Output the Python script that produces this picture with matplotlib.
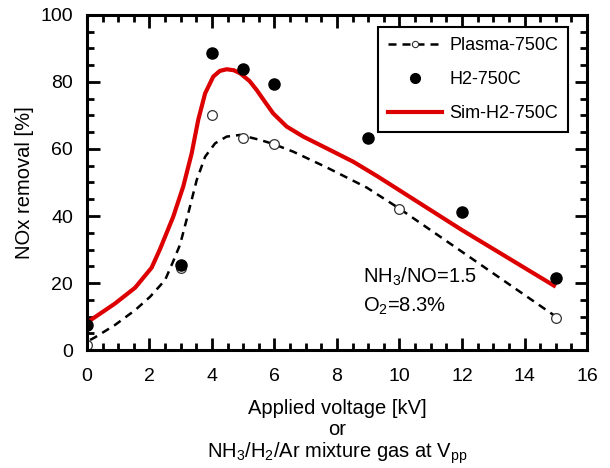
import numpy as np
import matplotlib.pyplot as plt
from matplotlib.lines import Line2D
from matplotlib.ticker import MultipleLocator

plt.rcParams['font.family'] = ['Liberation Sans', 'DejaVu Sans']
plt.rcParams['mathtext.fontset'] = 'custom'
plt.rcParams['mathtext.rm'] = 'Liberation Sans'
plt.rcParams['mathtext.it'] = 'Liberation Sans'

# measured points
plasma_x = [0, 3, 4, 5, 6, 10, 15]
plasma_y = [1.5, 24.4, 70.0, 63.4, 61.5, 42.1, 9.5]
h2_x = [0, 3, 4, 5, 6, 9, 12, 15]
h2_y = [7.5, 25.4, 88.6, 84.0, 79.3, 63.2, 41.1, 21.6]

# dashed curve (plasma)
dash_x = [0.1, 0.26, 0.9, 1.54, 2.02, 2.5, 2.76, 2.98, 3.24, 3.51, 3.78, 4.10, 4.47,
          4.9, 5.54, 5.96, 6.6, 7.67, 8.95, 10.0, 15.0]
dash_y = [3.0, 3.8, 7.5, 11.9, 15.9, 20.9, 26.5, 31.5, 40.8, 50.7, 57.7, 61.7, 63.7,
          64.2, 62.7, 61.5, 59.2, 54.5, 48.5, 42.2, 10.0]

# red curve (simulation)
sim_x = [0, 0.9, 1.54, 2.07, 2.34, 2.76, 3.08, 3.35, 3.56, 3.78, 4.04, 4.25, 4.47, 4.7,
         4.9, 5.2, 5.43, 5.7, 5.96, 6.39, 6.92, 7.67, 8.52, 9.32, 12.0, 15.0]
sim_y = [8.2, 13.9, 18.6, 24.6, 30.2, 39.8, 48.8, 58.7, 68.7, 76.6, 81.6, 83.3, 83.8, 83.5,
         82.6, 80.3, 77.6, 74.0, 70.6, 66.7, 63.7, 60.2, 56.2, 51.7, 35.8, 18.9]

fig = plt.figure(figsize=(6.1, 4.68), dpi=100)
ax = fig.add_axes([0.1426, 0.2521, 0.8197, 0.7159])

ax.plot(dash_x, dash_y, color='black', lw=1.8, dashes=(3.2, 2.4))
ax.plot(sim_x, sim_y, color='#dd0000', lw=3.0, solid_capstyle='butt', solid_joinstyle='round')
ax.plot(plasma_x, plasma_y, 'o', ms=7, mfc='white', mec='#333333', mew=0.9, ls='none')
ax.plot(h2_x, h2_y, 'o', ms=8, mfc='black', mec='black', ls='none')

ax.set_xlim(0, 16)
ax.set_ylim(0, 100)
ax.xaxis.set_major_locator(MultipleLocator(2))
ax.xaxis.set_minor_locator(MultipleLocator(0.5))
ax.yaxis.set_major_locator(MultipleLocator(20))
ax.yaxis.set_minor_locator(MultipleLocator(5))
ax.tick_params(which='both', direction='in', top=True, right=True, width=2, labelsize=14)
ax.tick_params(which='major', length=9)
ax.tick_params(which='minor', length=5)
ax.tick_params(axis='x', which='major', pad=13)
ax.tick_params(axis='y', which='major', pad=10)
for s in ax.spines.values():
    s.set_linewidth(2.2)

ax.set_ylabel('NOx removal [%]', fontsize=14.5)
ax.yaxis.set_label_coords(-0.105, 0.5)

xc = 0.5525
fig.text(xc, 1 - 414 / 468, 'Applied voltage [kV]', fontsize=14.5, ha='center', va='baseline')
fig.text(xc, 1 - 435 / 468, 'or', fontsize=14.5, ha='center', va='baseline')
fig.text(xc, 1 - 458 / 468, 'NH$_3$/H$_2$/Ar mixture gas at V$_{\\mathrm{pp}}$',
         fontsize=14.5, ha='center', va='baseline')

ax.text(8.82, 20.0, 'NH$_3$/NO=1.5', fontsize=14.5, va='baseline')
ax.text(8.82, 11.4, 'O$_2$=8.3%', fontsize=14.5, va='baseline')

handles = [
    Line2D([], [], color='black', lw=1.8, dashes=(3.2, 2.4), marker='o', ms=4.5,
           mfc='white', mec='#333333', mew=0.8),
    Line2D([], [], color='black', ls='none', marker='o', ms=7),
    Line2D([], [], color='#dd0000', lw=3.0),
]
leg = ax.legend(handles, ['Plasma-750C', 'H2-750C', 'Sim-H2-750C'], loc='upper right',
                bbox_to_anchor=(0.962, 0.964), fontsize=13, handlelength=3.0,
                labelspacing=0.95, borderpad=0.55, handletextpad=0.4, borderaxespad=0,
                fancybox=False, framealpha=1, edgecolor='black')
leg.get_frame().set_linewidth(1.5)

fig.savefig('out.png', dpi=100)
